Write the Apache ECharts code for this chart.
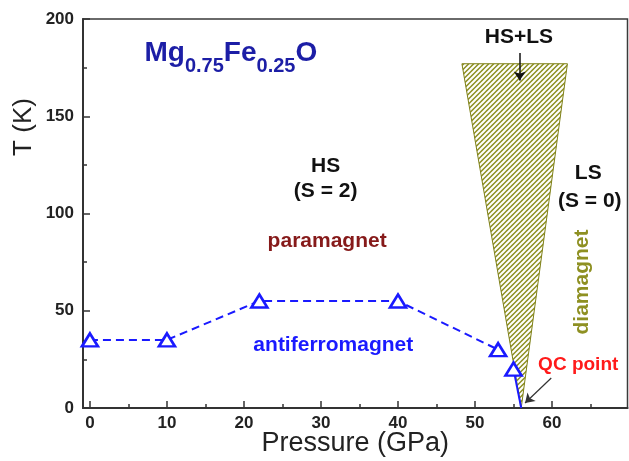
<!DOCTYPE html>
<html>
<head>
<meta charset="utf-8">
<script src="https://cdn.jsdelivr.net/npm/echarts@6/dist/echarts.min.js"></script>
<style>
  html, body { margin: 0; padding: 0; background: #fff; }
  #chart { width: 629px; height: 461px; }
</style>
</head>
<body>
<div id="chart"></div>
<script>
// Magnetic phase diagram of Mg0.75Fe0.25O under pressure

// Measured Neel temperatures (open triangles)
const measuredP = [0, 10, 22, 40, 53, 55];
const measuredT = [35, 35, 55, 55, 30, 20];
// Points joined by the dashed phase boundary
const dashedP = [0, 10, 22, 40, 53];
const dashedT = [35, 35, 55, 55, 30];
// Solid drop from the last point to the quantum critical point
const dropP = [55, 56];
const dropT = [20, 0];
// HS+LS coexistence wedge (polygon vertices)
const wedgeP = [48.3, 62, 56];
const wedgeT = [177, 177, 0];
// Axis ticks
const xMajorTicks = [0, 10, 20, 30, 40, 50, 60];
const xMinorTicks = [5, 15, 25, 35, 45, 55, 65];

const FONT = 'Liberation Sans, Arial, sans-serif';
const OLIVE = '#8e9022';

// Diagonal hatch tile: olive background with white "/" stripes
function hatchTile() {
  const s = 5;
  const c = document.createElement('canvas');
  c.width = s; c.height = s;
  const g = c.getContext('2d');
  g.fillStyle = OLIVE;
  g.fillRect(0, 0, s, s);
  g.strokeStyle = '#ffffff';
  g.lineWidth = 2.0;
  g.beginPath();
  g.moveTo(0, s); g.lineTo(s, 0);
  g.moveTo(-1, 1); g.lineTo(1, -1);
  g.moveTo(s - 1, s + 1); g.lineTo(s + 1, s - 1);
  g.stroke();
  return c;
}
const hatch = { image: hatchTile(), repeat: 'repeat' };

const pairs = (xs, ys) => xs.map((x, i) => [x, ys[i]]);

const chart = echarts.init(document.getElementById('chart'), null, { renderer: 'canvas' });

const bold = (size, color) => ({ fontFamily: FONT, fontWeight: 'bold', fontSize: size, color: color, opacity: 1 });

const annotations = [
  { value: [18.3, 182.5], label: {
      formatter: '{m|Mg}{s|0.75}{m|Fe}{s|0.25}{m|O}',
      rich: {
        m: { fontFamily: FONT, fontWeight: 'bold', fontSize: 28, color: '#1c1ea6', lineHeight: 46, verticalAlign: 'middle' },
        s: { fontFamily: FONT, fontWeight: 'bold', fontSize: 20, color: '#1c1ea6', lineHeight: 46, verticalAlign: 'bottom' }
      } } },
  { value: [55.7, 190.7], label: Object.assign({ formatter: 'HS+LS' }, bold(21, '#111')) },
  { value: [30.6, 124.4], label: Object.assign({ formatter: 'HS' }, bold(21, '#111')) },
  { value: [30.6, 111.6], label: Object.assign({ formatter: '(S = 2)' }, bold(21, '#111')) },
  { value: [64.7, 120.6], label: Object.assign({ formatter: 'LS' }, bold(21, '#111')) },
  { value: [64.9, 106.4], label: Object.assign({ formatter: '(S = 0)' }, bold(21, '#111')) },
  { value: [30.8, 85.9], label: Object.assign({ formatter: 'paramagnet' }, bold(21, '#861a1a')) },
  { value: [31.6, 32.4], label: Object.assign({ formatter: 'antiferromagnet' }, bold(21, '#1a1aff')) },
  { value: [63.9, 64.8], label: Object.assign({ formatter: 'diamagnet', rotate: 90 }, bold(21, OLIVE)) },
  { value: [63.4, 22.1], label: Object.assign({ formatter: 'QC point' }, bold(19, '#ff1a1a')) }
];

const option = {
  animation: false,
  textStyle: { fontFamily: FONT },
  grid: {
    left: 83, right: 1.5, top: 19, bottom: 53,
    outerBoundsMode: 'none',
    containLabel: false,
    show: true, borderColor: '#3a3a3a', borderWidth: 1.5, backgroundColor: 'transparent'
  },
  xAxis: [
    {
      type: 'value', min: -0.9, max: 69.8,
      name: 'Pressure (GPa)', nameLocation: 'middle', nameGap: 22, nameMoveOverlap: false,
      nameTextStyle: { fontFamily: FONT, fontSize: 27, color: '#222', verticalAlign: 'top' },
      axisLine: { show: true, onZero: false, lineStyle: { color: '#333', width: 2 } },
      axisTick: { show: true, inside: true, length: 7, customValues: xMajorTicks, lineStyle: { color: '#333', width: 1.5 } },
      axisLabel: { show: true, customValues: xMajorTicks, margin: 7, fontFamily: FONT, fontWeight: 'bold', fontSize: 17, color: '#222' },
      splitLine: { show: false }
    },
    {
      type: 'value', min: -0.9, max: 69.8, position: 'bottom',
      axisLine: { show: false, onZero: false },
      axisTick: { show: true, inside: true, length: 4, customValues: xMinorTicks, lineStyle: { color: '#333', width: 1.5 } },
      axisLabel: { show: false },
      splitLine: { show: false }
    }
  ],
  yAxis: {
    type: 'value', min: 0, max: 200, interval: 50,
    axisLine: { show: true, onZero: false, lineStyle: { color: '#333', width: 2 } },
    axisTick: { show: true, inside: true, length: 7, lineStyle: { color: '#333', width: 1.5 } },
    minorTick: { show: true, splitNumber: 2, length: 4, lineStyle: { color: '#333', width: 1.5 } },
    axisLabel: { margin: 9, fontFamily: FONT, fontWeight: 'bold', fontSize: 17, color: '#222' },
    splitLine: { show: false },
    minorSplitLine: { show: false }
  },
  graphic: [
    {
      type: 'text', x: 24, y: 127, rotation: Math.PI / 2,
      style: { text: 'T (K)', font: '26px ' + FONT, fill: '#222', align: 'center', verticalAlign: 'middle' }
    }
  ],
  series: [
    {
      // HS+LS coexistence region
      type: 'custom',
      data: [[wedgeP[0], wedgeT[0]]],
      silent: true,
      z: 1,
      renderItem: function (params, api) {
        const pts = wedgeP.map((p, i) => api.coord([p, wedgeT[i]]));
        return {
          type: 'polygon',
          shape: { points: pts },
          style: { fill: hatch, stroke: '#7e8018', lineWidth: 1 }
        };
      }
    },
    {
      type: 'line',
      data: pairs(dashedP, dashedT),
      showSymbol: false,
      z: 3,
      lineStyle: { color: '#1a1aff', width: 2, type: [8, 5] }
    },
    {
      type: 'line',
      data: pairs(dropP, dropT),
      showSymbol: false,
      z: 3,
      lineStyle: { color: '#1a1aff', width: 2, type: 'solid' }
    },
    {
      type: 'scatter',
      data: pairs(measuredP, measuredT),
      symbol: 'triangle',
      symbolSize: [16, 13],
      z: 4,
      itemStyle: { color: '#ffffff', borderColor: '#1a1aff', borderWidth: 2.6, opacity: 1 }
    },
    {
      // Text annotations and pointer arrows
      type: 'scatter',
      symbolSize: 0,
      silent: true,
      z: 5,
      itemStyle: { opacity: 1 },
      label: { show: true, position: 'inside' },
      data: annotations,
      markLine: {
        silent: true,
        symbol: ['none', 'arrow'],
        symbolSize: 9,
        label: { show: false },
        lineStyle: { color: '#111', width: 1.5, type: 'solid', opacity: 1 },
        data: [
          [{ coord: [55.8, 182.5] }, { coord: [55.8, 168.4] }],
          [{ coord: [59.9, 15.4], lineStyle: { color: '#333', width: 1.2 } }, { coord: [56.5, 2.6] }]
        ]
      }
    }
  ]
};

chart.setOption(option);
</script>
</body>
</html>
